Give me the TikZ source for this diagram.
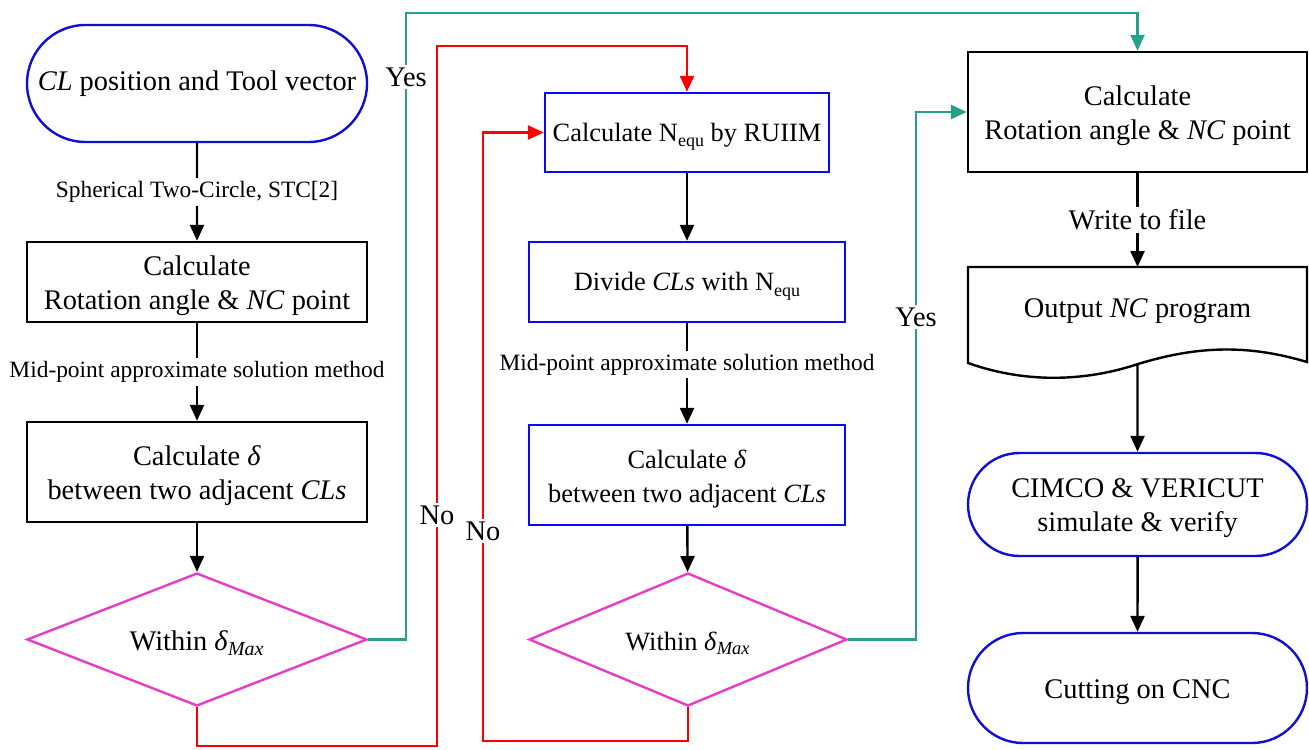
\documentclass[tikz,border=0pt]{standalone}
\usepackage{fontspec}
\setmainfont{Liberation Serif}
\usetikzlibrary{arrows.meta,shapes.geometric,shapes.misc}
\definecolor{tealc}{RGB}{38,160,140}
\definecolor{magc}{RGB}{230,60,200}
\definecolor{boxblue}{RGB}{10,10,250}
\definecolor{termblue}{RGB}{15,15,210}
\definecolor{redc}{RGB}{255,0,0}
\newcommand\tstrut{\rule{0pt}{13.5pt}}
\newcommand\subequ{\raisebox{-0.45ex}{\fontsize{9}{10}\selectfont equ}}
\begin{document}
\begin{tikzpicture}[x=0.5pt,y=-0.5pt,
  base/.style={font=\fontsize{14.2}{17}\selectfont, align=center, inner sep=0pt, line width=1.2pt},
  small/.style={font=\fontsize{13.2}{17}\selectfont},
  blk/.style={base, draw=black, rectangle},
  bbox/.style={base, small, draw=boxblue, rectangle},
  term/.style={base, draw=termblue, rounded rectangle},
  dia/.style={base, draw=magc, diamond, shape aspect=2.5},
  lbl/.style={fill=white, inner sep=1.5pt, font=\fontsize{11.7}{14}\selectfont},
  ylbl/.style={fill=white, inner sep=1.5pt, font=\fontsize{14.2}{17}\selectfont},
  arr/.style={line width=1.2pt, -{Triangle[length=8pt,width=7pt]}},
  conn/.style={line width=1.2pt}
]
\useasboundingbox (0,0) rectangle (1309,749);

% column 1
\node[term, minimum width=170pt, minimum height=58.5pt] (start) at (197,83.5) {\textit{CL} position and Tool vector};
\node[blk, minimum width=170pt, minimum height=40pt] (box1) at (197,282) {\tstrut Calculate\\Rotation angle \& \textit{NC} point};
\node[blk, minimum width=170pt, minimum height=50pt] (box2) at (197,472) {\tstrut Calculate \textit{δ}\\between two adjacent \textit{CLs}};
\node[dia, minimum width=170pt, minimum height=66.5pt] (d1) at (197,639.5) {\tstrut Within \textit{δ}\textsubscript{\textit{Max}}};

% column 2
\node[bbox, minimum width=142pt, minimum height=39.5pt] (box3) at (687,132.5) {\tstrut Calculate N\subequ{} by RUIIM};
\node[bbox, minimum width=158pt, minimum height=40pt] (box4) at (687,282) {\tstrut Divide \textit{CLs} with N\subequ};
\node[bbox, minimum width=158pt, minimum height=50pt] (box5) at (687,475) {\tstrut Calculate \textit{δ}\\between two adjacent \textit{CLs}};
\node[dia, small, minimum width=159pt, minimum height=66.5pt] (d2) at (688,639.5) {\tstrut Within \textit{δ}\textsubscript{\textit{Max}}};

% column 3
\node[blk, minimum width=169.5pt, minimum height=60pt] (box6) at (1137.5,112) {\tstrut Calculate\\Rotation angle \& \textit{NC} point};
\draw[conn] (968,363) -- (968,267) -- (1307,267) -- (1307,362)
  .. controls (1250,345) and (1200,345) .. (1138,364)
  .. controls (1090,380) and (1030,385) .. (968,363) -- cycle;
\node[base] (doc) at (1137.5,307) {\tstrut Output \textit{NC} program};
\coordinate (doct) at (1137.5,267);
\coordinate (docb) at (1137.5,364);
\node[term, minimum width=169.5pt, minimum height=51.5pt] (cimco) at (1137.5,504.5) {\tstrut CIMCO \& VERICUT\\simulate \& verify};
\node[term, minimum width=169.5pt, minimum height=55pt] (cut) at (1137.5,688) {\tstrut Cutting on CNC};

% black arrows
\draw[arr] (start) -- node[lbl]{Spherical Two-Circle, STC[2]} (box1);
\draw[arr] (box1) -- node[lbl]{Mid-point approximate solution method} (box2);
\draw[arr] (box2) -- (d1);
\draw[arr] (box3) -- (box4);
\draw[arr] (box4) -- node[lbl, pos=0.41]{Mid-point approximate solution method} (box5);
\draw[arr] (box5) -- (d2);
\draw[arr] (box6) -- node[ylbl]{Write to file} (doct);
\draw[arr] (docb) -- (cimco);
\draw[arr] (cimco) -- (cut);

% coloured loops
\coordinate (t1) at (406,13);
\coordinate (t2) at (916,112);
\coordinate (r1) at (437,746);
\coordinate (r2) at (687,46);
\coordinate (r3) at (483,741);
\draw[arr, draw=tealc] (d1.east) -| (t1) -| (box6.north);
\draw[arr, draw=tealc] (d2.east) -| (t2) -- (box6.west);
\draw[arr, draw=redc] (d1.south) |- (r1) |- (r2) -- (box3.north);
\draw[arr, draw=redc] (d2.south) |- (r3) |- (box3.west);

\node[ylbl] (yes1) at (406,77) {Yes};
\node[ylbl] (yes2) at (916,317) {Yes};
\node[ylbl] (no1) at (437,515) {No};
\node[ylbl] (no2) at (483,531) {No};
\end{tikzpicture}
\end{document}
